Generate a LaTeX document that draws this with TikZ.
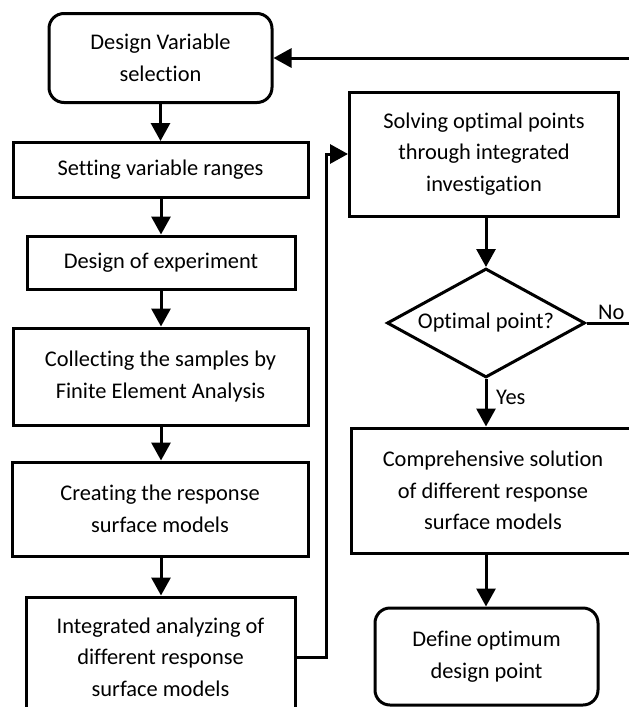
\documentclass[tikz,border=0pt]{standalone}
\usepackage{fontspec}
\setmainfont{Carlito}[Ligatures=CommonOff]
\usetikzlibrary{shapes.geometric,arrows.meta}
\begin{document}
\begin{tikzpicture}[x=1pt,y=-1pt,
  box/.style={draw,line width=3pt,align=center,font=\fontsize{22.4}{31.5}\selectfont,inner sep=0pt},
  rbox/.style={box,rounded corners=15pt},
  arr/.style={line width=3pt,-{Triangle[length=18pt,width=19pt]}},
  lbl/.style={font=\fontsize{22.4}{26}\selectfont,inner sep=0pt}]
\useasboundingbox (0,0) rectangle (629,707);
\clip (0,0) rectangle (629,707);
\node[rbox,minimum width=223pt,minimum height=89pt] (b1) at (160.5,58) {Design Variable\\selection};
\node[box,minimum width=295pt,minimum height=55pt] (b2) at (160.5,170) {Setting variable ranges};
\node[box,minimum width=268pt,minimum height=53pt] (b3) at (161,262.5) {Design of experiment};
\node[box,minimum width=295pt,minimum height=97pt] (b4) at (160.5,376.5) {Collecting the samples by\\Finite Element Analysis};
\node[box,minimum width=296pt,minimum height=94pt] (b5) at (160,509) {Creating the response\\surface models};
\node[box,minimum width=269pt,minimum height=120pt] (b6) at (160.5,657) {Integrated analyzing of\\different response\\surface models};
\node[box,minimum width=269pt,minimum height=124pt] (s) at (484,154) {Solving optimal points\\through integrated\\investigation};
\node[box,shape=diamond,shape aspect=1.82,minimum width=198pt,minimum height=109pt] (d) at (486,323) {Optimal point?};
\node[box,minimum width=284pt,minimum height=125pt] (c) at (493,490.5) {Comprehensive solution\\of different response\\surface models};
\node[rbox,minimum width=223pt,minimum height=97pt] (f) at (486.5,656.5) {Define optimum\\design point};
\coordinate (fbr) at (645,323);
\coordinate (fbt) at (645,58);
\draw[arr] (b1) -- (b2);
\draw[arr] (b2.south -| b3.north) -- (b3.north);
\draw[arr] (b3.south) -- (b4.north -| b3.south);
\draw[arr] (b4.south -| b3.south) -- (b5.north -| b3.south);
\draw[arr] (b5.south -| b3.south) -- (b6.north -| b3.south);
\draw[arr] (b6.east) -- ++(30,0) |- (s.west);
\draw[arr] (s.south -| d.north) -- (d.north);
\draw[arr] (d.south) -- (d.south |- c.north);
\draw[arr] (c.south -| d.south) -- (f.north -| d.south);
\draw[arr] (d.east) -- (fbr) -- (fbt) -- (b1.east);
\node[lbl,anchor=south west] (no) at (598,320) {No};
\node[lbl,anchor=west] (yes) at (496,397) {Yes};
\end{tikzpicture}
\end{document}
